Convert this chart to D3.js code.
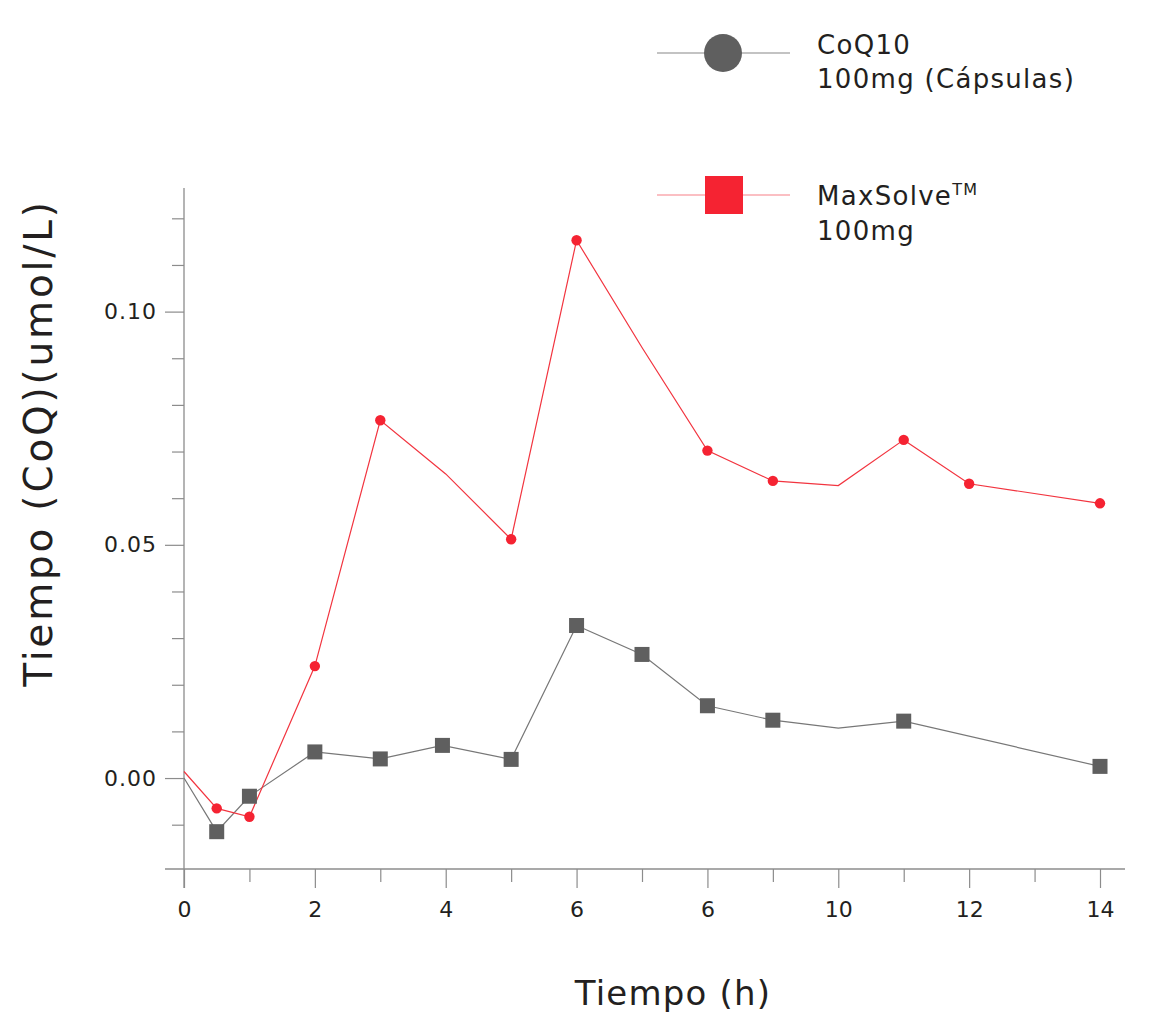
<!DOCTYPE html>
<html><head><meta charset="utf-8">
<script src="https://cdn.jsdelivr.net/npm/d3@7"></script>
<style>body{margin:0;background:#fff}svg{display:block}text{font-family:"DejaVu Sans",sans-serif;fill:#231f20}</style>
</head><body>
<script>
const seriesNames = ["CoQ10 100mg (Cápsulas)", "MaxSolve™ 100mg"];
const coqX = [0, 0.5, 1, 2, 3, 3.95, 5, 6, 7, 8, 9, 10, 11, 14];
const coqY = [0.0, -0.0115, -0.0039, 0.0056, 0.0041, 0.0070, 0.0040, 0.0327, 0.0265, 0.0155, 0.0124, 0.0107, 0.0122, 0.0025];
const coqMarker = [false, true, true, true, true, true, true, true, true, true, true, false, true, true];
const maxX = [0, 0.5, 1, 2, 3, 4, 5, 6, 7, 8, 9, 10, 11, 12, 14];
const maxY = [0.0014, -0.0065, -0.0083, 0.0240, 0.0767, 0.0652, 0.0512, 0.1153, 0.0923, 0.0702, 0.0637, 0.0627, 0.0725, 0.0631, 0.0589];
const maxMarker = [false, true, true, true, true, false, true, true, false, true, true, false, true, true, true];
const xTickValues = [0, 2, 4, 6, 8, 10, 12, 14];
const xTickLabels = ["0", "2", "4", "6", "6", "10", "12", "14"];
const xMinorTicks = [1, 3, 5, 7, 9, 11, 13];
const yTickValues = [0, 0.05, 0.10];
const yTickLabels = ["0.00", "0.05", "0.10"];
const yMinorTicks = [-0.01, 0.01, 0.02, 0.03, 0.04, 0.06, 0.07, 0.08, 0.09, 0.11, 0.12];

const W = 1153, H = 1012;
const FONT = '"DejaVu Sans", sans-serif';
const svg = d3.select("body").append("svg").attr("width", W).attr("height", H);
const x = d3.scaleLinear().domain([0, 14]).range([184, 1100]);
const y = d3.scaleLinear().domain([-0.0195, 0.1265]).range([869, 188]);
const axisCol = "#8c8c8c";

// y axis
svg.append("line").attr("x1", 184).attr("x2", 184).attr("y1", 188).attr("y2", 888).attr("stroke", axisCol).attr("stroke-width", 1.3);
const yMaj = svg.append("g").attr("transform", "translate(184,0)")
  .call(d3.axisLeft(y).tickValues(yTickValues).tickSize(19).tickPadding(9).tickFormat((d, i) => yTickLabels[i]));
const yMin = svg.append("g").attr("transform", "translate(184,0)")
  .call(d3.axisLeft(y).tickValues(yMinorTicks).tickSize(12).tickFormat(""));
// x axis
svg.append("line").attr("x1", 165).attr("x2", 1125).attr("y1", 869).attr("y2", 869).attr("stroke", axisCol).attr("stroke-width", 1.3);
const xMaj = svg.append("g").attr("transform", "translate(0,869)")
  .call(d3.axisBottom(x).tickValues(xTickValues).tickSize(19).tickPadding(13).tickFormat((d, i) => xTickLabels[i]));
const xMin = svg.append("g").attr("transform", "translate(0,869)")
  .call(d3.axisBottom(x).tickValues(xMinorTicks).tickSize(13).tickFormat(""));
[yMaj, yMin, xMaj, xMin].forEach(g => {
  g.select(".domain").remove();
  g.selectAll(".tick line").attr("stroke", axisCol).attr("stroke-width", 1.2);
  g.selectAll(".tick text").attr("font-size", 22).attr("fill", "#231f20").style("font-family", FONT);
});
yMaj.selectAll(".tick text").style("letter-spacing", "1px").attr("dx", 1);

// lines
const line = d3.line().x(d => x(d[0])).y(d => y(d[1]));
const coqData = coqX.map((v, i) => [v, coqY[i], coqMarker[i]]);
const maxData = maxX.map((v, i) => [v, maxY[i], maxMarker[i]]);
svg.append("path").datum(coqData).attr("d", line).attr("fill", "none").attr("stroke", "#777").attr("stroke-width", 1.2);
svg.append("path").datum(maxData).attr("d", line).attr("fill", "none").attr("stroke", "#f2343f").attr("stroke-width", 1.2);
svg.selectAll(".sq").data(coqData.filter(d => d[2])).enter().append("rect")
  .attr("x", d => x(d[0]) - 7.5).attr("y", d => y(d[1]) - 7.5).attr("width", 15).attr("height", 15).attr("fill", "#5f5f5f");
svg.selectAll(".dot").data(maxData.filter(d => d[2])).enter().append("circle")
  .attr("cx", d => x(d[0])).attr("cy", d => y(d[1])).attr("r", 5.2).attr("fill", "#f52332");

// legend
const lg = svg.append("g").style("letter-spacing", "1.3px");
lg.append("line").attr("x1", 657).attr("x2", 790).attr("y1", 53).attr("y2", 53).attr("stroke", "#888").attr("stroke-width", 1.2);
lg.append("circle").attr("cx", 723).attr("cy", 53).attr("r", 19).attr("fill", "#5f5f5f");
lg.append("line").attr("x1", 657).attr("x2", 790).attr("y1", 195).attr("y2", 195).attr("stroke", "#f88088").attr("stroke-width", 1.2);
lg.append("rect").attr("x", 705).attr("y", 176).attr("width", 38).attr("height", 38).attr("fill", "#f52332");
lg.append("text").attr("x", 817).attr("y", 54).attr("font-size", 26).text("CoQ10");
lg.append("text").attr("x", 817).attr("y", 88).attr("font-size", 26).text("100mg (Cápsulas)");
const t2 = lg.append("text").attr("x", 817).attr("y", 205).attr("font-size", 26);
t2.append("tspan").text("MaxSolve");
t2.append("tspan").attr("font-size", 16).attr("dy", -10).text("TM");
lg.append("text").attr("x", 817).attr("y", 240).attr("font-size", 26).text("100mg");

// axis titles
svg.append("text").attr("transform", "translate(52,443) rotate(-90)").attr("text-anchor", "middle")
  .attr("font-size", 39).style("letter-spacing", "2.8px").text("Tiempo (CoQ)(umol/L)");
svg.append("text").attr("x", 673).attr("y", 1005).attr("text-anchor", "middle").attr("font-size", 34)
  .style("letter-spacing", "1.2px").text("Tiempo (h)");
</script>
</body></html>
